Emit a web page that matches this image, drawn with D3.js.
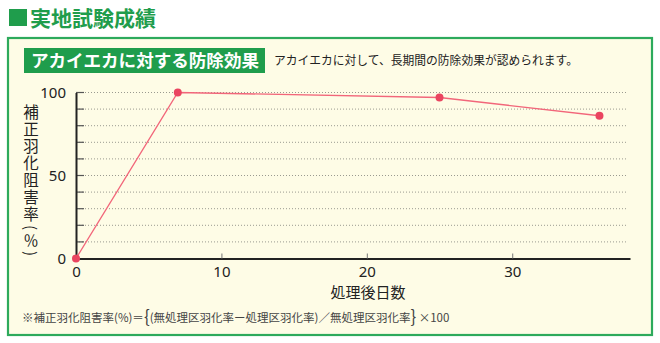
<!DOCTYPE html>
<html>
<head>
<meta charset="utf-8">
<script src="https://cdn.jsdelivr.net/npm/d3@7"></script>
<style>
  html, body { margin: 0; padding: 0; background: #ffffff; }
  svg { display: block; font-family: "Noto Sans CJK JP", "Noto Sans", sans-serif; }
  .vlabel { writing-mode: vertical-rl; }
</style>
</head>
<body>
<svg id="chart" width="660" height="343"></svg>
<script>
// Days after treatment and corrected emergence inhibition rate (%)
const days = [0, 7, 25, 36];
const inhibition = [0, 100, 97, 86];
const xTicks = [0, 10, 20, 30];
const yTicks = [0, 50, 100];
const yGrid = [10, 20, 30, 40, 50, 60, 70, 80, 90, 100];

const pageTitle = "実地試験成績";
const panelTitle = "アカイエカに対する防除効果";
const panelNote = "アカイエカに対して、長期間の防除効果が認められます。";
const yLabel = "補正羽化阻害率";
const yLabelUnit = "(％)";
const xLabel = "処理後日数";
const footnote = "※補正羽化阻害率(%)＝";
const footnoteBody = "(無処理区羽化率ー処理区羽化率)／無処理区羽化率";

const green = "#1f9d4c";
const svg = d3.select("#chart");

// page heading
svg.append("rect").attr("x", 9).attr("y", 9).attr("width", 18).attr("height", 17).attr("fill", green);
svg.append("text").attr("x", 30).attr("y", 26)
  .attr("font-size", 21).attr("font-weight", 700).attr("fill", green)
  .text(pageTitle);

// framed panel
svg.append("rect").attr("x", 8).attr("y", 38).attr("width", 644).attr("height", 297)
  .attr("fill", "#fefce6").attr("stroke", "#2daa5c").attr("stroke-width", 2.2);

svg.append("rect").attr("x", 24).attr("y", 48).attr("width", 241).attr("height", 25).attr("fill", green);
svg.append("text").attr("x", 31).attr("y", 67)
  .attr("font-size", 17.5).attr("font-weight", 700).attr("fill", "#ffffff")
  .attr("textLength", 228).attr("lengthAdjust", "spacingAndGlyphs")
  .text(panelTitle);
svg.append("text").attr("x", 274).attr("y", 64.5)
  .attr("font-size", 12).attr("fill", "#222")
  .attr("textLength", 304).attr("lengthAdjust", "spacingAndGlyphs")
  .text(panelNote);

// scales
const x = d3.scaleLinear().domain([0, 38.1]).range([76, 630]);
const y = d3.scaleLinear().domain([0, 100]).range([258.5, 92.5]);

// dotted gridlines
svg.append("g").selectAll("line").data(yGrid).join("line")
  .attr("x1", x(0)).attr("x2", 628)
  .attr("y1", d => y(d)).attr("y2", d => y(d))
  .attr("stroke", "#9a9a90").attr("stroke-width", 1)
  .attr("stroke-dasharray", "1,2");

// inner ticks on the y axis
svg.append("g").selectAll("line").data(yGrid).join("line")
  .attr("x1", x(0)).attr("x2", x(0) + 8)
  .attr("y1", d => y(d)).attr("y2", d => y(d))
  .attr("stroke", "#555").attr("stroke-width", 1.2);

// axes
const yAxis = d3.axisLeft(y).tickValues(yTicks).tickSize(0).tickPadding(10);
const gy = svg.append("g").attr("transform", `translate(${x(0)},0)`).call(yAxis);
gy.select(".domain").attr("stroke", "#222").attr("stroke-width", 2);
gy.selectAll("text").attr("font-size", 15).attr("fill", "#222")
  .attr("font-family", "'Noto Sans', sans-serif");

const xAxis = d3.axisBottom(x).tickValues(xTicks).tickSize(-5).tickPadding(8)
  .tickSizeOuter(0);
const gx = svg.append("g").attr("transform", `translate(0,${y(0)})`).call(xAxis);
gx.select(".domain").attr("stroke", "#222").attr("stroke-width", 2);
gx.selectAll(".tick line").attr("stroke", "#777").attr("stroke-width", 1);
gx.selectAll(".tick").filter(d => d === 0).select("line").remove();
gx.selectAll("text").attr("font-size", 15).attr("fill", "#222")
  .attr("font-family", "'Noto Sans', sans-serif");

// vertical y-axis title and its unit
svg.append("text").attr("class", "vlabel")
  .attr("x", 31).attr("y", 104.5)
  .attr("font-size", 15.5).attr("letter-spacing", 1.5).attr("fill", "#222")
  .text(yLabel);
svg.append("text").attr("class", "vlabel")
  .attr("x", 31).attr("y", 225)
  .attr("font-size", 15).attr("letter-spacing", 3).attr("fill", "#222")
  .text(yLabelUnit);

svg.append("text").attr("x", 368).attr("y", 298)
  .attr("text-anchor", "middle").attr("font-size", 15).attr("fill", "#222")
  .text(xLabel);

// data line and markers
const pts = days.map((d, i) => [d, inhibition[i]]);
svg.append("path").datum(pts)
  .attr("fill", "none").attr("stroke", "#f2667a").attr("stroke-width", 1.3)
  .attr("d", d3.line().x(d => x(d[0])).y(d => y(d[1])));
svg.append("g").selectAll("circle").data(pts).join("circle")
  .attr("cx", d => x(d[0])).attr("cy", d => y(d[1])).attr("r", 4)
  .attr("fill", "#ea4560");

// footnote
const fn = svg.append("text").attr("x", 22).attr("y", 322)
  .attr("font-size", 11.5).attr("fill", "#444");
fn.append("tspan").text(footnote);
fn.append("tspan").attr("font-size", 17).attr("dy", 1).text("{");
fn.append("tspan").attr("dy", -1).text(footnoteBody);
fn.append("tspan").attr("font-size", 17).attr("dy", 1).text("}");
fn.append("tspan").attr("dy", -1).text(" ×100");
</script>
</body>
</html>
